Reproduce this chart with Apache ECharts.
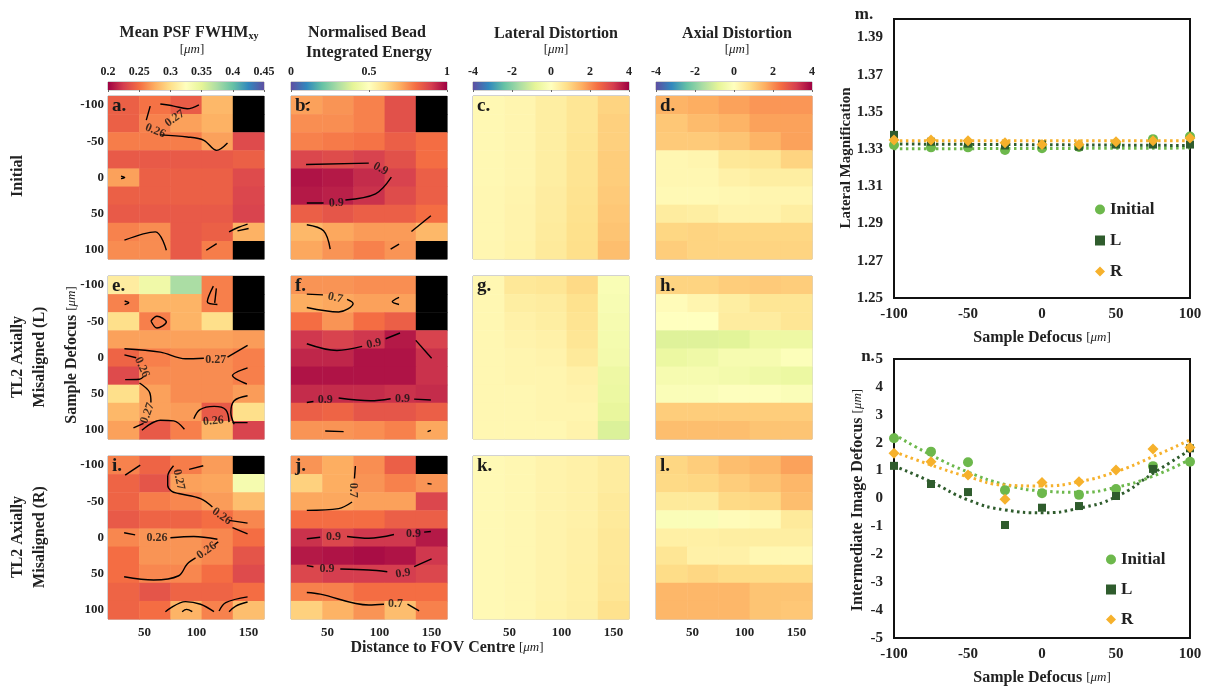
<!DOCTYPE html>
<html>
<head>
<meta charset="utf-8">
<title>Defocus maps</title>
<script src="https://cdn.jsdelivr.net/npm/echarts@6/dist/echarts.min.js"></script>
<style>
html, body { margin: 0; padding: 0; background: #fff; }
#chart { width: 1208px; height: 692px; }
</style>
</head>
<body>
<div id="chart"></div>
<script>
const FONT = '"Liberation Serif", "Times New Roman", serif';

// map grid (cell centres) and tick values
const X_CENTRES = [30, 60, 90, 120, 150];
const Y_CENTRES = [-100, -75, -50, -25, 0, 25, 50, 75, 100];
const X_TICKS = [50, 100, 150];
const Y_TICKS = [-100, -50, 0, 50, 100];

// colourbar ticks
const FWHM_TICKS = [0.2, 0.25, 0.3, 0.35, 0.4, 0.45];
const ENERGY_TICKS = [0, 0.5, 1];
const DIST_TICKS = [-4, -2, 0, 2, 4];

const SPECTRAL = ['#9e0142', '#d53e4f', '#f46d43', '#fdae61', '#fee08b', '#ffffbf',
                  '#e6f598', '#abdda4', '#66c2a5', '#3288bd', '#5e4fa2'];
const SPECTRAL_R = SPECTRAL.slice().reverse();

// rows go from -100 (top) to 100, columns 30..150; null = no bead (drawn black)
const FWHM_INITIAL = [
  [0.243, 0.252, 0.241, 0.280, null],
  [0.243, 0.258, 0.270, 0.277, null],
  [0.256, 0.256, 0.256, 0.270, 0.232],
  [0.240, 0.240, 0.240, 0.240, 0.243],
  [0.270, 0.243, 0.243, 0.243, 0.232],
  [0.243, 0.243, 0.243, 0.243, 0.230],
  [0.240, 0.240, 0.240, 0.240, 0.228],
  [0.258, 0.262, 0.240, 0.243, 0.277],
  [0.262, 0.262, 0.240, 0.256, null]
];
const ENERGY_INITIAL = [
  [0.72, 0.74, 0.77, 0.86, null],
  [0.75, 0.75, 0.77, 0.86, null],
  [0.77, 0.78, 0.79, 0.83, 0.80],
  [0.88, 0.87, 0.89, 0.86, 0.80],
  [0.97, 0.96, 0.93, 0.89, 0.83],
  [0.96, 0.95, 0.92, 0.87, 0.83],
  [0.83, 0.85, 0.83, 0.83, 0.80],
  [0.68, 0.71, 0.73, 0.73, 0.68],
  [0.71, 0.74, 0.77, 0.74, null]
];
const LATERAL_INITIAL = [
  [0.18, 0.25, 0.45, 0.65, 1.00],
  [0.18, 0.25, 0.45, 0.65, 1.05],
  [0.18, 0.25, 0.45, 0.68, 1.05],
  [0.18, 0.25, 0.45, 0.70, 1.10],
  [0.18, 0.25, 0.45, 0.70, 1.10],
  [0.20, 0.28, 0.48, 0.72, 1.15],
  [0.20, 0.30, 0.50, 0.75, 1.20],
  [0.20, 0.30, 0.52, 0.78, 1.25],
  [0.22, 0.32, 0.55, 0.80, 1.35]
];
const AXIAL_INITIAL = [
  [1.50, 1.60, 1.75, 1.90, 1.90],
  [1.20, 1.40, 1.50, 1.75, 1.75],
  [1.15, 1.15, 1.25, 1.50, 1.75],
  [0.20, 0.25, 0.60, 0.65, 1.00],
  [0.20, 0.20, 0.35, 0.45, 0.45],
  [0.15, 0.15, 0.20, 0.25, 0.25],
  [0.50, 0.45, 0.30, 0.30, 0.45],
  [0.95, 1.00, 0.95, 0.95, 0.95],
  [1.10, 1.00, 1.00, 1.00, 1.00]
];
const FWHM_L = [
  [0.310, 0.340, 0.375, 0.257, null],
  [0.258, 0.278, 0.278, 0.257, null],
  [0.300, 0.257, 0.278, 0.300, null],
  [0.270, 0.270, 0.270, 0.270, 0.268],
  [0.245, 0.257, 0.262, 0.262, 0.257],
  [0.232, 0.262, 0.262, 0.262, 0.257],
  [0.300, 0.270, 0.262, 0.262, 0.268],
  [0.280, 0.270, 0.268, 0.240, 0.300],
  [0.270, 0.240, 0.257, 0.278, 0.228]
];
const ENERGY_L = [
  [0.74, 0.74, 0.75, 0.75, null],
  [0.70, 0.71, 0.72, 0.72, null],
  [0.80, 0.74, 0.80, 0.83, null],
  [0.91, 0.89, 0.91, 0.96, 0.89],
  [0.94, 0.94, 0.97, 0.97, 0.92],
  [0.97, 0.97, 0.97, 0.97, 0.92],
  [0.93, 0.93, 0.93, 0.92, 0.93],
  [0.83, 0.82, 0.85, 0.85, 0.83],
  [0.74, 0.74, 0.75, 0.77, 0.71]
];
const LATERAL_L = [
  [0.20, 0.60, 0.65, 0.90, -0.20],
  [0.20, 0.45, 0.50, 0.75, -0.25],
  [0.20, 0.35, 0.45, 0.70, -0.30],
  [0.20, 0.30, 0.35, 0.65, -0.35],
  [0.20, 0.25, 0.30, 0.55, -0.40],
  [0.20, 0.25, 0.25, 0.35, -0.55],
  [0.20, 0.20, 0.25, 0.30, -0.60],
  [0.20, 0.20, 0.25, 0.25, -0.70],
  [0.20, 0.20, 0.20, 0.30, -0.95]
];
const AXIAL_L = [
  [1.00, 1.00, 1.10, 1.15, 1.10],
  [0.10, 0.25, 0.45, 0.65, 0.65],
  [0.00, 0.00, 0.50, 0.50, 0.65],
  [-0.90, -0.90, -0.85, -0.55, -0.55],
  [-0.60, -0.50, -0.30, -0.30, -0.10],
  [-0.30, -0.30, -0.40, -0.50, -0.60],
  [-0.15, -0.15, -0.05, -0.05, -0.15],
  [1.10, 1.10, 1.10, 1.10, 1.10],
  [1.35, 1.35, 1.35, 1.25, 1.25]
];
const FWHM_R = [
  [0.258, 0.245, 0.256, 0.268, null],
  [0.245, 0.237, 0.270, 0.272, 0.335],
  [0.245, 0.256, 0.260, 0.268, 0.283],
  [0.240, 0.245, 0.245, 0.250, 0.260],
  [0.260, 0.265, 0.265, 0.260, 0.250],
  [0.250, 0.265, 0.265, 0.260, 0.237],
  [0.250, 0.260, 0.260, 0.250, 0.232],
  [0.245, 0.237, 0.245, 0.245, 0.250],
  [0.245, 0.250, 0.278, 0.258, 0.283]
];
const ENERGY_R = [
  [0.74, 0.70, 0.75, 0.83, null],
  [0.63, 0.70, 0.74, 0.77, 0.74],
  [0.71, 0.71, 0.72, 0.72, 0.88],
  [0.80, 0.80, 0.80, 0.83, 0.83],
  [0.92, 0.88, 0.91, 0.91, 0.96],
  [0.96, 0.97, 0.98, 0.97, 0.91],
  [0.88, 0.90, 0.90, 0.90, 0.88],
  [0.77, 0.77, 0.80, 0.80, 0.80],
  [0.63, 0.69, 0.74, 0.67, 0.77]
];
const LATERAL_R = [
  [0.15, 0.20, 0.30, 0.35, 0.50],
  [0.15, 0.20, 0.30, 0.35, 0.50],
  [0.15, 0.20, 0.30, 0.35, 0.55],
  [0.15, 0.20, 0.30, 0.35, 0.55],
  [0.15, 0.20, 0.30, 0.38, 0.60],
  [0.15, 0.20, 0.30, 0.38, 0.60],
  [0.15, 0.20, 0.30, 0.40, 0.62],
  [0.15, 0.20, 0.30, 0.40, 0.65],
  [0.15, 0.20, 0.32, 0.42, 0.75]
];
const AXIAL_R = [
  [0.95, 1.10, 1.35, 1.45, 1.75],
  [0.90, 0.95, 1.10, 1.25, 1.45],
  [0.55, 0.55, 0.90, 0.95, 1.35],
  [-0.15, -0.15, 0.10, 0.15, 0.55],
  [0.40, 0.40, 0.45, 0.45, 0.45],
  [0.65, 0.35, 0.35, 0.20, 0.20],
  [0.85, 0.95, 0.85, 0.85, 0.85],
  [1.45, 1.45, 1.45, 1.25, 1.25],
  [1.45, 1.45, 1.45, 1.25, 1.20]
];

// contour paths, in (distance, defocus) units
const CONTOURS_A = [
  [[65.3, -101.4], [78.2, -98.6], [91.2, -94.9], [102.4, -100.4]],
  [[55.6, -98.6], [51.8, -79.2]],
  [[65.3, -58.8], [91.2, -56], [107.2, -51.4], [119.5, -37.5], [129.9, -47.6]],
  [[27.5, -2], [31, 0], [27.5, 1.5]],
  [[30.8, 86.5], [60.5, 75], [71.1, 100.4]],
  [[109.5, 100.4], [119.5, 91.3]],
  [[131.4, 75], [140, 69], [149.2, 64.3]],
  [[139.5, 73.6], [150.2, 70.4]]
];
const LABELS_A = [[79.2, -81.5, '0.27', 35], [60.5, -64.3, '0.26', -22]];

const CONTOURS_B = [
  [[29.5, -18], [89.8, -19.9]],
  [[111.5, -0.4], [96.3, 22.6], [67.3, 31]],
  [[46.3, 35.1], [30.2, 35.1]],
  [[30.2, 65.3], [46.3, 73.6], [52.7, 99]],
  [[130.8, 74.6], [149.5, 52.8]],
  [[110.8, 99], [118.9, 92]],
  [[29, -101], [33, -104]]
];
const LABELS_B = [[101.1, -12, '0.9', -28], [58.5, 35.1, '0.9', 3]];

const CONTOURS_E = [
  [[30.8, -12.1], [65.3, -7.4], [89.5, 1.8], [107.2, 1]],
  [[129.9, -0.4], [149.2, -16.7]],
  [[30.8, -3.7], [42.1, 0.4]],
  [[49.2, 26.4], [45.3, 30.1], [31.5, 30.6]],
  [[45.3, 35.2], [55, 48.1], [56.3, 62]],
  [[49.2, 91], [39.5, 97]],
  [[47.6, 100.4], [65.3, 86.6], [78.2, 87.5], [88.5, 99]],
  [[97.5, 84.6], [103.4, 72], [117, 67.5], [128.2, 72], [131.4, 89.2]],
  [[149.2, 52.8], [136.3, 59.7], [133.1, 76], [136.3, 92.1]],
  [[134.7, 89.9], [149.2, 89.9]],
  [[149.2, 14.3], [134.7, 25], [148.5, 36.6]],
  [[56.3, -50.4], [62.1, -56.9], [71.1, -49], [62.1, -40.7], [56.3, -50.4]],
  [[116.3, -98.6], [110.5, -76.8], [120.2, -73.2]],
  [[119.2, -95.4], [117.6, -75.4]],
  [[31, -78], [35, -75.5], [31, -73]]
];
const LABELS_E = [[118.5, 2.8, '0.27', 0], [47.6, 13.5, '0.26', -65],
                  [53, 76.9, '0.27', 70], [116.3, 87.8, '0.26', 5]];

const CONTOURS_F = [
  [[30.2, -87.5], [45.7, -86.5]],
  [[68.9, -80.1], [74.7, -74.6], [60.8, -62.9], [30.2, -69]],
  [[118.9, -82.9], [112.4, -76.8], [118.9, -73.2]],
  [[30.2, -19], [59.2, -9.7], [83.4, -15.3]],
  [[106, -25.9], [119.8, -33.8]],
  [[135, -23.6], [150.2, 1]],
  [[30.2, 62.1], [36.6, 60.7]],
  [[60.8, 56], [91.5, 59.7], [110.8, 56.9]],
  [[133.4, 57.4], [149.5, 58.7]],
  [[47.9, 101.4], [65.6, 102.3]],
  [[146.3, 102.3], [149.5, 100.5]]
];
const LABELS_F = [[57.6, -82.4, '0.7', -12], [94.7, -19, '0.9', 12],
                  [47.9, 58.7, '0.9', 0], [122.1, 56.5, '0.9', 0]];

const CONTOURS_I = [
  [[31.5, -86.1], [46, -100]],
  [[106.6, -99], [93, -94]],
  [[78, -99], [72.4, -84], [72.4, -72], [76, -64], [83, -60.7], [104, -53.7], [115.4, -42.1]],
  [[131.4, -23.6], [149.2, -19.9]],
  [[134.7, -13.5], [149.2, -5.1]],
  [[30.5, -6.5], [41.1, -3.7]],
  [[75, 0.4], [97.5, -1.4], [120.2, 2.4]],
  [[30.5, 54.2], [58.9, 58.7], [83, 52.8], [91.2, 36.5], [99.2, 28.2]],
  [[117.6, 9.7], [121, 6]],
  [[70.2, 102.4], [89.5, 88.5], [104, 92.1], [116.9, 102.4]],
  [[86.3, 102.4], [90.5, 99.2], [96, 102.4]],
  [[121.8, 101.4], [128.2, 89.9], [149.2, 82]],
  [[131.4, 102.4], [137.9, 94.6], [149.2, 89]]
];
const LABELS_I = [[83, -80, '0.27', -78], [124.4, -29.2, '0.26', -35],
                  [62.1, 0.4, '0.26', 0], [109.9, 18.1, '0.26', 35]];

const CONTOURS_J = [
  [[76.9, -98.6], [76, -81.5]],
  [[73.7, -49], [60.8, -39.9], [30.2, -37.5]],
  [[30.2, 1.8], [43.1, -0.4]],
  [[68.9, -1.4], [89.8, 1], [114, -4.2]],
  [[143, -7.4], [149.5, -8.3]],
  [[30.2, 38.9], [36.6, 40.3]],
  [[62.4, 43.5], [89.8, 44.9], [107.6, 47.2]],
  [[133.4, 40.3], [150.2, 29.6]],
  [[30.2, 76], [43.1, 78.2], [89.8, 93.1], [104.4, 92.1]],
  [[127, 92.1], [138.2, 101.4]],
  [[146.3, -74.6], [150.2, -73.6]]
];
const LABELS_J = [[74.7, -65.3, '0.7', -90], [55.9, -0.4, '0.9', 0], [132.8, -5.1, '0.9', 0],
                  [49.5, 43.5, '0.9', 0], [122.8, 49.5, '0.9', 8], [115.6, 92.1, '0.7', 0]];

// right-hand plots
const DEFOCUS = [-100, -75, -50, -25, 0, 25, 50, 75, 100];
const MAG_INITIAL = [1.3323, 1.3310, 1.3310, 1.3296, 1.3305, 1.3312, 1.3330, 1.3354, 1.3368];
const MAG_L = [1.3377, 1.3340, 1.3330, 1.3320, 1.3325, 1.3314, 1.3325, 1.3325, 1.3325];
const MAG_R = [1.3350, 1.3350, 1.3345, 1.3335, 1.3325, 1.3325, 1.3340, 1.3345, 1.3360];
const MAG_TREND_X = [-100, 100];
const MAG_TREND_INITIAL = [1.3302, 1.3306];
const MAG_TREND_L = [1.3328, 1.3320];
const MAG_TREND_R = [1.3346, 1.3346];
const MAG_TICKS = [1.25, 1.27, 1.29, 1.31, 1.33, 1.35, 1.37, 1.39];

const IMG_INITIAL = [2.16, 1.68, 1.30, 0.30, 0.19, 0.13, 0.34, 1.16, 1.32];
const IMG_L = [1.17, 0.52, 0.23, -0.95, -0.33, -0.27, 0.09, 1.06, 1.80];
const IMG_R = [1.62, 1.32, 0.84, -0.03, 0.57, 0.60, 1.02, 1.77, 1.83];
const IMG_TREND_INITIAL = [2.30, 1.56, 0.95, 0.50, 0.27, 0.22, 0.40, 0.80, 1.40];
const IMG_TREND_L = [1.17, 0.60, -0.05, -0.41, -0.51, -0.35, 0.06, 0.90, 1.74];
const IMG_TREND_R = [1.68, 1.20, 0.78, 0.48, 0.45, 0.60, 0.96, 1.50, 2.10];

const C_INITIAL = '#6db84c';
const C_L = '#2f5c2d';
const C_R = '#f6b12c';

// layout
const COL_LEFT = [108, 291, 473, 656];
const ROW_TOP = [96, 276, 456];
const MAP_W = 156, MAP_H = 163;
const BAR_TOP = 82, BAR_H = 8;

const SCALES = [
  {min: 0.2, max: 0.45, colors: SPECTRAL, ticks: FWHM_TICKS},
  {min: 0, max: 1, colors: SPECTRAL_R, ticks: ENERGY_TICKS},
  {min: -4, max: 4, colors: SPECTRAL_R, ticks: DIST_TICKS}
];

const PANELS = [
  {id: 'a.', row: 0, col: 0, data: FWHM_INITIAL, scale: 0, contours: CONTOURS_A, labels: LABELS_A},
  {id: 'b.', row: 0, col: 1, data: ENERGY_INITIAL, scale: 1, contours: CONTOURS_B, labels: LABELS_B},
  {id: 'c.', row: 0, col: 2, data: LATERAL_INITIAL, scale: 2},
  {id: 'd.', row: 0, col: 3, data: AXIAL_INITIAL, scale: 2},
  {id: 'e.', row: 1, col: 0, data: FWHM_L, scale: 0, contours: CONTOURS_E, labels: LABELS_E},
  {id: 'f.', row: 1, col: 1, data: ENERGY_L, scale: 1, contours: CONTOURS_F, labels: LABELS_F},
  {id: 'g.', row: 1, col: 2, data: LATERAL_L, scale: 2},
  {id: 'h.', row: 1, col: 3, data: AXIAL_L, scale: 2},
  {id: 'i.', row: 2, col: 0, data: FWHM_R, scale: 0, contours: CONTOURS_I, labels: LABELS_I},
  {id: 'j.', row: 2, col: 1, data: ENERGY_R, scale: 1, contours: CONTOURS_J, labels: LABELS_J},
  {id: 'k.', row: 2, col: 2, data: LATERAL_R, scale: 2},
  {id: 'l.', row: 2, col: 3, data: AXIAL_R, scale: 2}
];

const HALF_W = (X_CENTRES[1] - X_CENTRES[0]) / 2;
const HALF_H = (Y_CENTRES[1] - Y_CENTRES[0]) / 2;

function renderCell(params, api) {
  const x = api.value(0), y = api.value(1);
  const p0 = api.coord([x - HALF_W, y - HALF_H]);
  const p1 = api.coord([x + HALF_W, y + HALF_H]);
  return {
    type: 'rect',
    shape: {
      x: Math.min(p0[0], p1[0]), y: Math.min(p0[1], p1[1]),
      width: Math.abs(p1[0] - p0[0]) + 0.5, height: Math.abs(p1[1] - p0[1]) + 0.5
    },
    style: {fill: api.value(3) === 1 ? '#000' : api.visual('color')}
  };
}

const axisText = {fontFamily: FONT, fontWeight: 'bold', fontSize: 13, color: '#222'};

const grids = [], xAxes = [], yAxes = [], series = [], graphics = [];
const scaleSeries = [[], [], []];

PANELS.forEach(function (p) {
  const gi = grids.length;
  grids.push({left: COL_LEFT[p.col], top: ROW_TOP[p.row], width: MAP_W, height: MAP_H,
              show: true, borderColor: '#a5a5a5', borderWidth: 1, backgroundColor: 'transparent'});
  xAxes.push({
    gridIndex: gi, type: 'value',
    min: X_CENTRES[0] - HALF_W, max: X_CENTRES[X_CENTRES.length - 1] + HALF_W,
    splitLine: {show: false}, axisLine: {show: false},
    axisTick: {show: true, inside: true, length: 3, customValues: X_TICKS, lineStyle: {color: '#777'}},
    axisLabel: Object.assign({show: p.row === 2, customValues: X_TICKS, margin: 7}, axisText)
  });
  yAxes.push({
    gridIndex: gi, type: 'value', inverse: true,
    min: Y_CENTRES[0] - HALF_H, max: Y_CENTRES[Y_CENTRES.length - 1] + HALF_H,
    splitLine: {show: false}, axisLine: {show: false},
    axisTick: {show: true, inside: true, length: 3, customValues: Y_TICKS, lineStyle: {color: '#777'}},
    axisLabel: Object.assign({show: p.col === 0, customValues: Y_TICKS, margin: 4}, axisText)
  });

  const cells = [];
  p.data.forEach(function (row, r) {
    row.forEach(function (v, c) {
      cells.push([X_CENTRES[c], Y_CENTRES[r], v === null ? SCALES[p.scale].min : v, v === null ? 1 : 0]);
    });
  });
  scaleSeries[p.scale].push(series.length);
  series.push({type: 'custom', xAxisIndex: gi, yAxisIndex: gi, data: cells,
               renderItem: renderCell, silent: true, animation: false, z: 1});

  (p.contours || []).forEach(function (path) {
    series.push({type: 'line', xAxisIndex: gi, yAxisIndex: gi, data: path, symbol: 'none',
                 smooth: 0.35, silent: true, animation: false, z: 3,
                 lineStyle: {color: '#000', width: 1.4}});
  });
  if (p.labels) {
    series.push({
      type: 'scatter', xAxisIndex: gi, yAxisIndex: gi, silent: true, animation: false, z: 4,
      symbolSize: 0.1, itemStyle: {color: 'rgba(0,0,0,0)'},
      data: p.labels.map(function (l) { return {value: [l[0], l[1]], name: l[2], label: {rotate: l[3]}}; }),
      label: {show: true, position: 'inside', formatter: '{b}', fontFamily: FONT,
              fontWeight: 'bold', fontSize: 12, color: '#111'}
    });
  }
  graphics.push({type: 'text', x: COL_LEFT[p.col] + 4, y: ROW_TOP[p.row] + 1, silent: true, z: 10,
                 style: {text: p.id, fontFamily: FONT, fontWeight: 'bold', fontSize: 19, fill: '#1a1a1a',
                         align: 'left', verticalAlign: 'top'}});
});

// colourbars
[{col: 0, scale: 0}, {col: 1, scale: 1}, {col: 2, scale: 2}, {col: 3, scale: 2}].forEach(function (b) {
  const s = SCALES[b.scale];
  const gi = grids.length;
  grids.push({left: COL_LEFT[b.col], top: BAR_TOP, width: MAP_W, height: BAR_H,
              show: true, borderColor: '#a5a5a5', borderWidth: 1});
  xAxes.push({gridIndex: gi, type: 'value', position: 'top', min: s.min, max: s.max,
              splitLine: {show: false}, axisLine: {show: false},
              axisTick: {show: true, inside: true, length: 2, customValues: s.ticks, lineStyle: {color: '#666'}},
              axisLabel: {customValues: s.ticks, margin: 4, fontFamily: FONT, fontWeight: 'bold',
                          fontSize: 12, color: '#222'}});
  yAxes.push({gridIndex: gi, type: 'value', min: 0, max: 1, show: false});
  series.push({
    type: 'custom', xAxisIndex: gi, yAxisIndex: gi, silent: true, animation: false, z: 1,
    data: [[s.min, s.max]],
    renderItem: function (params, api) {
      const p0 = api.coord([api.value(0), 1]);
      const p1 = api.coord([api.value(1), 0]);
      return {
        type: 'rect',
        shape: {x: p0[0], y: p0[1], width: p1[0] - p0[0], height: p1[1] - p0[1]},
        style: {fill: new echarts.graphic.LinearGradient(0, 0, 1, 0, s.colors.map(function (c, i) {
          return {offset: i / (s.colors.length - 1), color: c};
        }))}
      };
    }
  });
});

// right plots
const rightText = {fontFamily: FONT, fontWeight: 'bold', fontSize: 15, color: '#222'};
const gm = grids.length;
grids.push({left: 894, top: 19, width: 296, height: 279, show: true, borderColor: '#111', borderWidth: 2});
xAxes.push({gridIndex: gm, type: 'value', min: -100, max: 100, interval: 50,
            splitLine: {show: false}, axisLine: {show: false}, axisTick: {show: false},
            axisLabel: Object.assign({margin: 9}, rightText)});
yAxes.push({gridIndex: gm, type: 'value', min: 1.25, max: 1.40,
            splitLine: {show: false}, axisLine: {show: false}, axisTick: {show: false},
            axisLabel: Object.assign({margin: 11, customValues: MAG_TICKS,
                                      formatter: function (v) { return v.toFixed(2); }}, rightText)});
const gn = grids.length;
grids.push({left: 894, top: 359, width: 296, height: 279, show: true, borderColor: '#111', borderWidth: 2});
xAxes.push({gridIndex: gn, type: 'value', min: -100, max: 100, interval: 50,
            splitLine: {show: false}, axisLine: {show: false}, axisTick: {show: false},
            axisLabel: Object.assign({margin: 9}, rightText)});
yAxes.push({gridIndex: gn, type: 'value', min: -5, max: 5, interval: 1,
            splitLine: {show: false}, axisLine: {show: false}, axisTick: {show: false},
            axisLabel: Object.assign({margin: 11}, rightText)});

function zipXY(xs, ys) { return xs.map(function (x, i) { return [x, ys[i]]; }); }
function trend(gi, name, xs, ys, color) {
  return {type: 'line', name: name, xAxisIndex: gi, yAxisIndex: gi, data: zipXY(xs, ys),
          symbol: 'none', smooth: true, silent: true, animation: false, z: 2,
          lineStyle: {color: color, width: 3, type: [2.5, 3.5]}};
}
function points(gi, name, ys, symbol, size, color) {
  return {type: 'scatter', name: name, xAxisIndex: gi, yAxisIndex: gi, data: zipXY(DEFOCUS, ys),
          symbol: symbol, symbolSize: size, itemStyle: {color: color, opacity: 1},
          silent: true, animation: false, z: 3};
}
series.push(trend(gm, 'Initial fit', MAG_TREND_X, MAG_TREND_INITIAL, C_INITIAL));
series.push(trend(gm, 'L fit', MAG_TREND_X, MAG_TREND_L, C_L));
series.push(trend(gm, 'R fit', MAG_TREND_X, MAG_TREND_R, C_R));
series.push(points(gm, 'Initial', MAG_INITIAL, 'circle', 10, C_INITIAL));
series.push(points(gm, 'L', MAG_L, 'rect', 8, C_L));
series.push(points(gm, 'R', MAG_R, 'diamond', 11, C_R));
series.push(trend(gn, 'Initial fit', DEFOCUS, IMG_TREND_INITIAL, C_INITIAL));
series.push(trend(gn, 'L fit', DEFOCUS, IMG_TREND_L, C_L));
series.push(trend(gn, 'R fit', DEFOCUS, IMG_TREND_R, C_R));
series.push(points(gn, 'Initial', IMG_INITIAL, 'circle', 10, C_INITIAL));
series.push(points(gn, 'L', IMG_L, 'rect', 8, C_L));
series.push(points(gn, 'R', IMG_R, 'diamond', 11, C_R));

const legendItems = [{name: 'Initial', icon: 'circle'}, {name: 'L', icon: 'rect'}, {name: 'R', icon: 'diamond'}];
const legendText = {fontFamily: FONT, fontWeight: 'bold', fontSize: 17, color: '#222'};

// free text
const RICH = {
  b: {fontFamily: FONT, fontWeight: 'bold', fontSize: 16, fill: '#222'},
  s: {fontFamily: FONT, fontWeight: 'bold', fontSize: 10, fill: '#222', verticalAlign: 'bottom'},
  n: {fontFamily: FONT, fontSize: 13, fill: '#222'},
  i: {fontFamily: FONT, fontStyle: 'italic', fontSize: 13, fill: '#222'}
};
function txt(x, y, text, rot, size) {
  const g = {type: 'text', x: x, y: y, silent: true, z: 10,
             style: {text: text, rich: RICH, fontFamily: FONT, fontWeight: 'bold', fontSize: size || 16,
                     fill: '#222', align: 'center', verticalAlign: 'middle'}};
  if (rot) g.rotation = rot;
  return g;
}
const UNIT = '{n|[}{i|μm}{n|]}';
const UP = Math.PI / 2;
graphics.push(
  txt(189, 33, '{b|Mean PSF FWHM}{s|xy}'),
  txt(192, 50, UNIT),
  txt(367, 33, 'Normalised Bead'),
  txt(369, 53, 'Integrated Energy'),
  txt(556, 34, 'Lateral Distortion'),
  txt(556, 50, UNIT),
  txt(737, 34, 'Axial Distortion'),
  txt(737, 50, UNIT),
  txt(18, 176, 'Initial', UP),
  txt(18, 357, 'TL2 Axially', UP),
  txt(40, 357, 'Misaligned (L)', UP),
  txt(72, 355, '{b|Sample Defocus }' + UNIT, UP),
  txt(18, 537, 'TL2 Axially', UP),
  txt(40, 537, 'Misaligned (R)', UP),
  txt(447, 648, '{b|Distance to FOV Centre }' + UNIT),
  txt(864, 15, 'm.', 0, 17),
  txt(868, 357, 'n.', 0, 17),
  txt(846, 158, 'Lateral Magnification', UP, 15),
  txt(858, 500, '{b|Intermediate Image Defocus }' + UNIT, UP, 15),
  txt(1042, 338, '{b|Sample Defocus }' + UNIT, 0, 15),
  txt(1042, 678, '{b|Sample Defocus }' + UNIT, 0, 15)
);

const chart = echarts.init(document.getElementById('chart'), null, {renderer: 'canvas'});
chart.setOption({
  backgroundColor: '#fff',
  animation: false,
  grid: grids,
  xAxis: xAxes,
  yAxis: yAxes,
  visualMap: SCALES.map(function (s, k) {
    return {type: 'continuous', show: false, dimension: 2, seriesIndex: scaleSeries[k],
            min: s.min, max: s.max, inRange: {color: s.colors}};
  }),
  legend: [
    {data: legendItems, orient: 'vertical', left: 1090, top: 196, itemWidth: 10, itemHeight: 10,
     itemGap: 14, selectedMode: false, textStyle: legendText},
    {data: legendItems, orient: 'vertical', left: 1101, top: 546, itemWidth: 10, itemHeight: 10,
     itemGap: 13, selectedMode: false, textStyle: legendText}
  ],
  graphic: graphics,
  series: series
});
</script>
</body>
</html>
